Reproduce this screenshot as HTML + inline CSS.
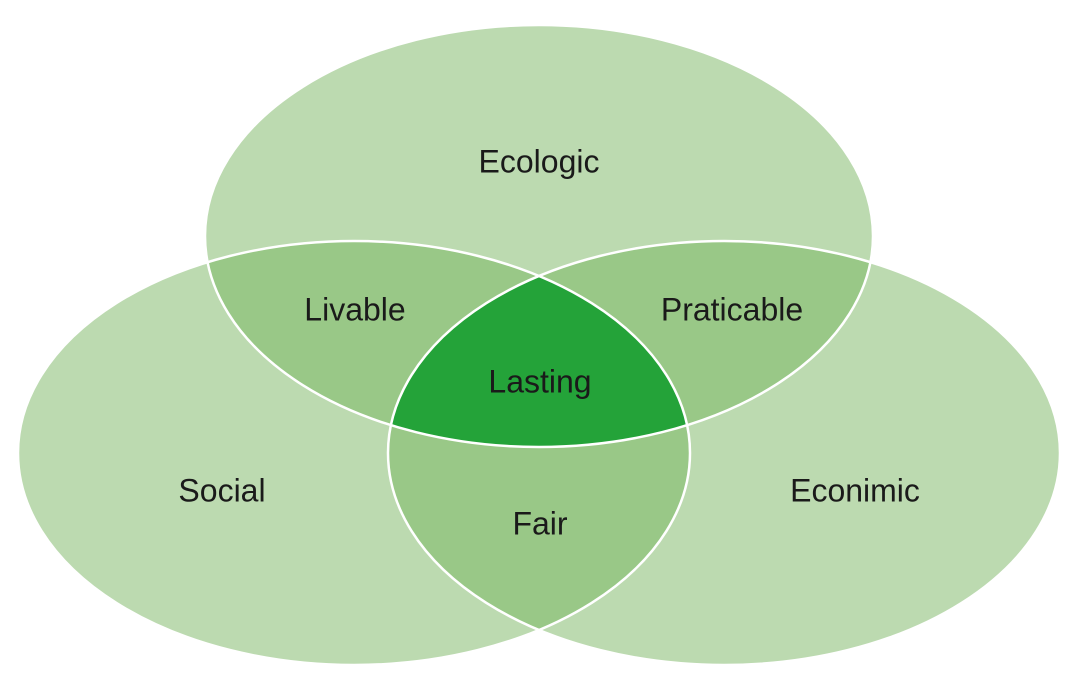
<!DOCTYPE html>
<html><head><meta charset="utf-8"><style>
html,body{margin:0;padding:0;background:#fff;}
svg{display:block;}
text{font-family:"Liberation Sans",sans-serif;font-size:32px;fill:#1a1a1a;text-anchor:middle;dominant-baseline:middle;}
</style></head><body>
<svg width="1080" height="690" viewBox="0 0 1080 690" xmlns="http://www.w3.org/2000/svg">
<defs>
<clipPath id="cT"><ellipse cx="539" cy="236" rx="334" ry="211"/></clipPath>
<clipPath id="cL"><ellipse cx="354" cy="453" rx="336" ry="212"/></clipPath>
<clipPath id="cR"><ellipse cx="724" cy="453" rx="336" ry="212"/></clipPath>
</defs>
<g fill="#bcdab0">
<ellipse cx="539" cy="236" rx="334" ry="211"/>
<ellipse cx="354" cy="453" rx="336" ry="212"/>
<ellipse cx="724" cy="453" rx="336" ry="212"/>
</g>
<g fill="#99c887">
<ellipse cx="539" cy="236" rx="334" ry="211" clip-path="url(#cL)"/>
<ellipse cx="539" cy="236" rx="334" ry="211" clip-path="url(#cR)"/>
<ellipse cx="354" cy="453" rx="336" ry="212" clip-path="url(#cR)"/>
</g>
<g clip-path="url(#cT)"><ellipse cx="354" cy="453" rx="336" ry="212" fill="#24a339" clip-path="url(#cR)"/></g>
<g fill="none" stroke="#fff" stroke-width="2.5">
<ellipse cx="539" cy="236" rx="334" ry="211"/>
<ellipse cx="354" cy="453" rx="336" ry="212"/>
<ellipse cx="724" cy="453" rx="336" ry="212"/>
</g>
<text x="539" y="164">Ecologic</text>
<text x="355" y="312">Livable</text>
<text x="732" y="312">Praticable</text>
<text x="540" y="384">Lasting</text>
<text x="222" y="493">Social</text>
<text x="855" y="493">Econimic</text>
<text x="540" y="526">Fair</text>
</svg>
</body></html>
